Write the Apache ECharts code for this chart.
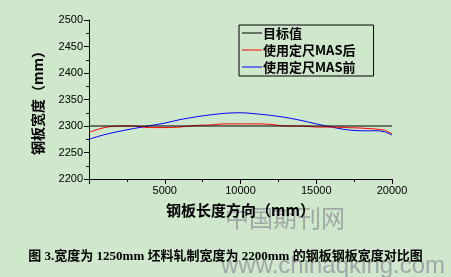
<!DOCTYPE html>
<html><head><meta charset="utf-8">
<script src="https://cdn.jsdelivr.net/npm/echarts@6/dist/echarts.min.js"></script>
<style>html,body{margin:0;padding:0;background:#cfe7cb;}#c{width:451px;height:277px;}</style>
</head><body><div id="c"></div>
<script>
const distances = [0,1000,2000,3000,4000,5000,6000,7000,8000,9000,10000,11000,12000,13000,14000,15000,16000,17000,18000,19000,19500,20000];
const afterMAS  = [2288,2297,2300,2300,2297,2297,2298,2301,2302,2304,2304,2304,2303,2300,2300,2298,2298,2297,2296,2294,2292,2285];
const beforeMAS = [2275,2283.5,2290,2295.5,2300.5,2305.5,2312,2317,2321,2324,2325,2323,2320,2316,2310.5,2304,2298,2293,2291,2291,2289,2283];
const targetX = [0,20000];
const targetY = [2300,2300];
const yTicks = [2200,2250,2300,2350,2400,2450,2500];
const xTicks = [5000,10000,15000,20000];
const names = ['目标值','使用定尺MAS后','使用定尺MAS前'];

const pair = (xs, ys) => xs.map((x,i)=>[x,ys[i]]);
const chart = echarts.init(document.getElementById('c'));
const cjk = '"Noto Sans CJK SC", sans-serif';
const lineIcon = 'path://M0 0H0.01V0.01H0Z M0 6.5H20V7.5H0Z M19.99 13.99H20V14H19.99Z';
chart.setOption({
  backgroundColor:'#cfe7cb',
  animation:false,
  grid:{left:89,right:59,top:20,bottom:98},
  title:{text:'图 3.宽度为 1250mm 坯料轧制宽度为 2200mm 的钢板钢板宽度对比图',left:'center',top:245,
    textStyle:{fontSize:13,fontWeight:'bold',color:'#000',fontFamily:'"Liberation Serif", "Noto Sans CJK SC", serif'}},
  legend:{orient:'vertical',left:239,top:25,itemWidth:20,itemHeight:14,itemGap:3,padding:[1,18,2,3],
    borderColor:'#000',borderWidth:1,icon:lineIcon,
    textStyle:{fontSize:13,fontWeight:'bold',color:'#000',fontFamily:cjk,padding:[0,0,0,-4]},
    data:names},
  xAxis:{type:'value',min:0,max:20000,interval:5000,
    name:'钢板长度方向（mm）',nameLocation:'middle',nameGap:24,
    nameTextStyle:{fontSize:15,fontWeight:'bold',color:'#000',fontFamily:cjk},
    axisLine:{lineStyle:{color:'#000',width:1}},
    axisTick:{show:true,length:5,lineStyle:{color:'#000'}},
    minorTick:{show:true,splitNumber:2,length:3,lineStyle:{color:'#000'}},
    splitLine:{show:false},
    axisLabel:{showMinLabel:false,color:'#000',fontSize:11,fontFamily:'"Liberation Sans", Arial',margin:6,
      formatter:v=>xTicks.includes(v)?String(v):''}},
  yAxis:{type:'value',min:2200,max:2500,interval:50,
    name:'钢板宽度（mm）',nameLocation:'middle',nameGap:44,nameRotate:90,
    nameTextStyle:{fontSize:14,fontWeight:'bold',color:'#000',fontFamily:cjk},
    axisLine:{show:true,lineStyle:{color:'#000',width:1}},
    axisTick:{show:true,length:5,lineStyle:{color:'#000'}},
    minorTick:{show:true,splitNumber:2,length:3,lineStyle:{color:'#000'}},
    splitLine:{show:false},
    axisLabel:{color:'#000',fontSize:11,fontFamily:'"Liberation Sans", Arial',margin:6,
      formatter:v=>yTicks.includes(v)?String(v):''}},
  series:[
    {name:names[2],type:'line',data:pair(distances,beforeMAS),symbol:'none',smooth:0.3,lineStyle:{color:'#0000ff',width:1},itemStyle:{color:'#0000ff'}},
    {name:names[1],type:'line',data:pair(distances,afterMAS),symbol:'none',smooth:0.3,lineStyle:{color:'#ff0000',width:1},itemStyle:{color:'#ff0000'}},
    {name:names[0],type:'line',data:pair(targetX,targetY),symbol:'none',lineStyle:{color:'#000',width:1},itemStyle:{color:'#000'}}
  ],
  graphic:[
    {type:'text',left:225,top:206,style:{text:'中国期刊网',fontSize:24,fill:'rgba(140,140,150,0.7)',fontFamily:cjk}},
    {type:'text',left:221,top:254,style:{text:'www.chinaqking.com',fontSize:24,fill:'rgba(140,140,155,0.7)',fontFamily:'"Liberation Sans", Arial'}}
  ]
});
</script></body></html>
